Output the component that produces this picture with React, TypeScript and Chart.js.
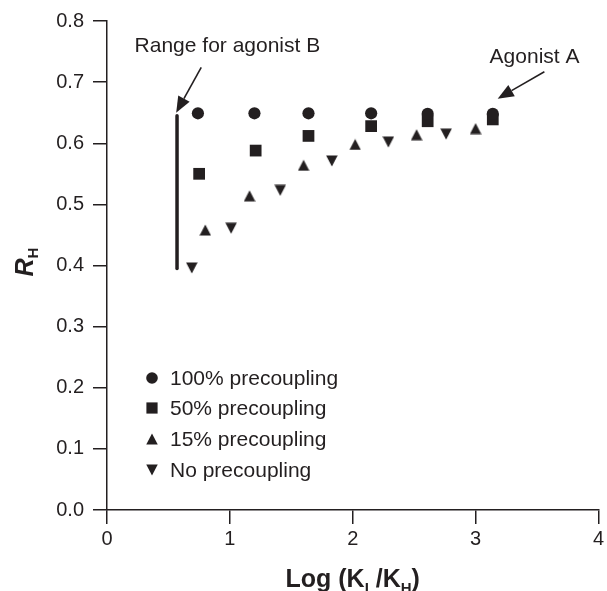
import React, { useEffect, useRef } from 'react';
import { Chart, registerables } from 'chart.js';

Chart.register(...registerables);

// ---------- data ----------
const xTickLabels = ['0', '1', '2', '3', '4'];
const yTickLabels = ['0.0', '0.1', '0.2', '0.3', '0.4', '0.5', '0.6', '0.7', '0.8'];

const seriesNames = ['100% precoupling', '50% precoupling', '15% precoupling', 'No precoupling'];

const x100 = [0.74, 1.2, 1.64, 2.15, 2.61, 3.14];
const y100 = [0.649, 0.649, 0.649, 0.649, 0.648, 0.648];

const x50 = [0.75, 1.21, 1.64, 2.15, 2.61, 3.14];
const y50 = [0.55, 0.588, 0.612, 0.628, 0.636, 0.639];

const x15 = [0.8, 1.16, 1.6, 2.02, 2.52, 3.0];
const y15 = [0.458, 0.514, 0.564, 0.598, 0.614, 0.624];

const xNo = [0.69, 1.01, 1.41, 1.83, 2.29, 2.76];
const yNo = [0.396, 0.461, 0.523, 0.571, 0.602, 0.615];

// vertical bar: range for agonist B
const rangeBX = [0.57, 0.57];
const rangeBY = [0.395, 0.645];

// annotations (data coordinates)
const annotB = { text: 'Range for agonist B', tx: 0.98, ty: 0.759, fromX: 0.767, fromY: 0.724, toX: 0.563, toY: 0.65 };
const annotA = { text: 'Agonist A', tx: 3.48, ty: 0.741, fromX: 3.56, fromY: 0.717, toX: 3.18, toY: 0.673 };

// ---------- styles ----------
const INK = '#231f20';
const FONT = "'Liberation Sans', Arial, Helvetica, sans-serif";
const TRI_W = 11.5;
const TRI_H = 11;

const pts = (xs: number[], ys: number[]) => xs.map((x, i) => ({ x, y: ys[i] }));

function triPath(ctx: CanvasRenderingContext2D, x: number, y: number, up: boolean) {
  const hw = TRI_W / 2;
  const hh = TRI_H / 2;
  ctx.beginPath();
  if (up) {
    ctx.moveTo(x, y - hh);
    ctx.lineTo(x + hw, y + hh);
    ctx.lineTo(x - hw, y + hh);
  } else {
    ctx.moveTo(x, y + hh);
    ctx.lineTo(x + hw, y - hh);
    ctx.lineTo(x - hw, y - hh);
  }
  ctx.closePath();
}

function makeTriangleCanvas(up: boolean): HTMLCanvasElement {
  const c = document.createElement('canvas');
  c.width = 12;
  c.height = 12;
  const g = c.getContext('2d')!;
  g.fillStyle = INK;
  triPath(g, 6, 6, up);
  g.fill();
  return c;
}

function drawArrow(ctx: CanvasRenderingContext2D, x1: number, y1: number, x2: number, y2: number) {
  const ang = Math.atan2(y2 - y1, x2 - x1);
  const headLen = 16;
  const headHalf = 6.5;
  const bx = x2 - Math.cos(ang) * headLen;
  const by = y2 - Math.sin(ang) * headLen;
  ctx.save();
  ctx.strokeStyle = INK;
  ctx.fillStyle = INK;
  ctx.lineWidth = 1.6;
  ctx.beginPath();
  ctx.moveTo(x1, y1);
  ctx.lineTo(bx, by);
  ctx.stroke();
  ctx.beginPath();
  ctx.moveTo(x2, y2);
  ctx.lineTo(bx + Math.sin(ang) * headHalf, by - Math.cos(ang) * headHalf);
  ctx.lineTo(bx - Math.sin(ang) * headHalf, by + Math.cos(ang) * headHalf);
  ctx.closePath();
  ctx.fill();
  ctx.restore();
}

function drawSymbol(ctx: CanvasRenderingContext2D, kind: string, x: number, y: number) {
  ctx.save();
  ctx.fillStyle = INK;
  if (kind === 'circle') {
    ctx.beginPath();
    ctx.arc(x, y, 5.8, 0, Math.PI * 2);
  } else if (kind === 'rect') {
    ctx.beginPath();
    ctx.rect(x - 5.6, y - 5.6, 11.2, 11.2);
  } else {
    triPath(ctx, x, y, kind === 'up');
  }
  ctx.fill();
  ctx.restore();
}

const legendKinds = ['circle', 'rect', 'up', 'down'];
const legendSymbolX = 152;
const legendTextX = 170;
const legendRowsY = [378, 408, 439, 470];

const decorPlugin = {
  id: 'decor',
  afterDatasetsDraw(chart: any) {
    const ctx: CanvasRenderingContext2D = chart.ctx;
    const xs = chart.scales.x;
    const ys = chart.scales.y;
    const ca = chart.chartArea;

    // annotations
    ctx.save();
    ctx.fillStyle = INK;
    ctx.font = `21px ${FONT}`;
    ctx.textAlign = 'center';
    ctx.textBaseline = 'middle';
    for (const a of [annotB, annotA]) {
      ctx.fillText(a.text, xs.getPixelForValue(a.tx), ys.getPixelForValue(a.ty));
      drawArrow(ctx, xs.getPixelForValue(a.fromX), ys.getPixelForValue(a.fromY), xs.getPixelForValue(a.toX), ys.getPixelForValue(a.toY));
    }
    ctx.restore();

    // legend
    ctx.save();
    ctx.font = `21px ${FONT}`;
    ctx.fillStyle = INK;
    ctx.textAlign = 'left';
    ctx.textBaseline = 'middle';
    seriesNames.forEach((name, i) => {
      drawSymbol(ctx, legendKinds[i], legendSymbolX, legendRowsY[i]);
      ctx.fillText(name, legendTextX, legendRowsY[i] + 1);
    });
    ctx.restore();

    // x axis title: Log (K_I /K_H)
    ctx.save();
    ctx.fillStyle = INK;
    ctx.textBaseline = 'alphabetic';
    ctx.textAlign = 'left';
    const big = `bold 25px ${FONT}`;
    const small = `bold 15px ${FONT}`;
    const parts: [string, string, number][] = [
      ['Log (K', big, 0],
      ['I', small, 6],
      [' /K', big, 0],
      ['H', small, 6],
      [')', big, 0],
    ];
    let total = 0;
    for (const [t, f] of parts) { ctx.font = f; total += ctx.measureText(t).width; }
    let cx = (ca.left + ca.right) / 2 - total / 2;
    const base = 587;
    for (const [t, f, dy] of parts) {
      ctx.font = f;
      ctx.fillText(t, cx, base + dy);
      cx += ctx.measureText(t).width;
    }
    ctx.restore();

    // y axis title: R_H (rotated)
    ctx.save();
    ctx.fillStyle = INK;
    ctx.translate(33, 262);
    ctx.rotate(-Math.PI / 2);
    ctx.textBaseline = 'alphabetic';
    ctx.textAlign = 'left';
    const rFont = `italic bold 25px ${FONT}`;
    const hFont = `bold 15px ${FONT}`;
    ctx.font = rFont;
    const wR = ctx.measureText('R').width;
    ctx.font = hFont;
    const wH = ctx.measureText('H').width;
    const start = -(wR + wH) / 2;
    ctx.font = rFont;
    ctx.fillText('R', start, 0);
    ctx.font = hFont;
    ctx.fillText('H', start + wR, 5);
    ctx.restore();
  },
};

export default function App() {
  const ref = useRef<HTMLCanvasElement>(null);

  useEffect(() => {
    if (!ref.current) return;
    const upTri = makeTriangleCanvas(true);
    const downTri = makeTriangleCanvas(false);
    const chart = new Chart(ref.current, {
      type: 'scatter',
      data: {
        datasets: [
          {
            label: seriesNames[0],
            data: pts(x100, y100),
            pointStyle: 'circle',
            pointRadius: 6.1,
            backgroundColor: INK,
            borderColor: INK,
            borderWidth: 0,
            order: 1,
          },
          {
            label: seriesNames[1],
            data: pts(x50, y50),
            pointStyle: 'rect',
            pointRadius: 8.3,
            backgroundColor: INK,
            borderColor: INK,
            borderWidth: 0,
            order: 2,
          },
          {
            label: seriesNames[2],
            data: pts(x15, y15),
            pointStyle: upTri as any,
            pointRadius: 6,
            backgroundColor: INK,
            borderColor: INK,
            borderWidth: 0,
            order: 3,
          },
          {
            label: seriesNames[3],
            data: pts(xNo, yNo),
            pointStyle: downTri as any,
            pointRadius: 6,
            backgroundColor: INK,
            borderColor: INK,
            borderWidth: 0,
            order: 4,
          },
          {
            label: 'Range for agonist B',
            data: pts(rangeBX, rangeBY),
            showLine: true,
            pointRadius: 0,
            borderColor: INK,
            borderWidth: 3.5,
            borderCapStyle: 'round',
            order: 5,
          } as any,
        ],
      },
      options: {
        animation: false,
        responsive: false,
        maintainAspectRatio: false,
        devicePixelRatio: 1,
        clip: false as any,
        layout: { padding: { left: 0, right: 6, top: 18, bottom: 0 } },
        plugins: {
          legend: { display: false },
          tooltip: { enabled: false },
        },
        scales: {
          x: {
            type: 'linear',
            min: 0,
            max: 4,
            afterFit: (s: any) => { s.height = 81; },
            ticks: {
              stepSize: 1,
              autoSkip: false,
              maxRotation: 0,
              padding: 3,
              color: INK,
              font: { family: FONT, size: 20 },
              callback: (_v: any, i: number) => xTickLabels[i],
            },
            grid: { drawOnChartArea: false, drawTicks: true, tickLength: 14, color: INK, lineWidth: 1.5 },
            border: { display: true, color: INK, width: 1.5 },
          },
          y: {
            type: 'linear',
            min: 0,
            max: 0.8,
            afterFit: (s: any) => { s.width = 107; },
            ticks: {
              stepSize: 0.1,
              autoSkip: false,
              padding: 9,
              color: INK,
              font: { family: FONT, size: 20 },
              callback: (_v: any, i: number) => yTickLabels[i],
            },
            grid: { drawOnChartArea: false, drawTicks: true, tickLength: 14, color: INK, lineWidth: 1.5 },
            border: { display: true, color: INK, width: 1.5 },
          },
        },
      },
      plugins: [decorPlugin],
    });
    return () => chart.destroy();
  }, []);

  return (
    <div style={{ position: 'absolute', left: 0, top: 0, width: 607, height: 591, background: '#ffffff' }}>
      <canvas ref={ref} width={607} height={591} style={{ display: 'block', width: 607, height: 591 }} />
    </div>
  );
}
